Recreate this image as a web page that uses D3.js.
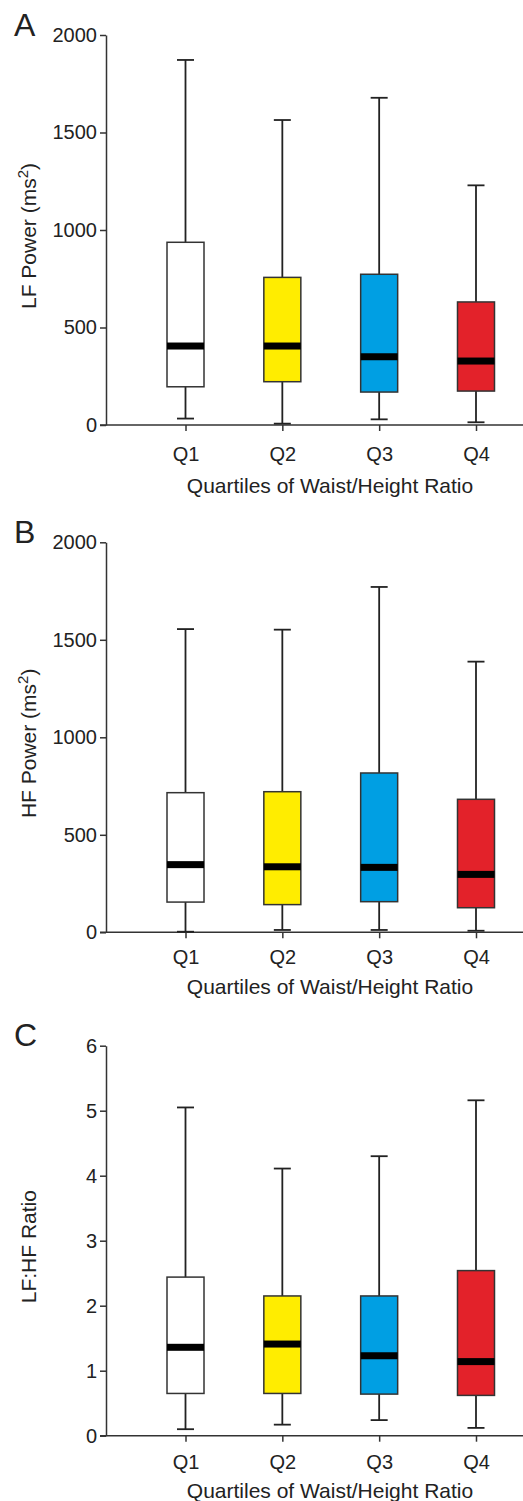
<!DOCTYPE html>
<meta charset="utf-8">
<body style="margin:0;background:#fff">
<div id="chart"></div>
<style>
  text { font-family: "Liberation Sans", Arial, sans-serif; fill: #222; }
  .axis path, .axis line { stroke: #333; stroke-width: 1.5; }
  .axis text { font-size: 20px; fill: #222; }
</style>
<script src="https://d3js.org/d3.v7.min.js"></script>
<script>
  var width = 523;
  var height = 1501;

  var categories = ["Q1", "Q2", "Q3", "Q4"];
  var fills = ["#ffffff", "#ffed00", "#009fe3", "#e3222a"];

  // panel A: LF power
  var lfLow = [33, 7, 29, 14];
  var lfLowerQ = [196, 222, 169, 174];
  var lfMedian = [405, 405, 350, 328];
  var lfUpperQ = [937, 757, 773, 631];
  var lfHigh = [1872, 1564, 1678, 1229];

  // panel B: HF power
  var hfLow = [3, 12, 12, 8];
  var hfLowerQ = [155, 142, 157, 126];
  var hfMedian = [347, 336, 333, 297];
  var hfUpperQ = [716, 721, 817, 682];
  var hfHigh = [1555, 1552, 1771, 1388];

  // panel C: LF:HF ratio
  var ratioLow = [0.10, 0.17, 0.24, 0.12];
  var ratioLowerQ = [0.65, 0.65, 0.64, 0.62];
  var ratioMedian = [1.36, 1.41, 1.23, 1.14];
  var ratioUpperQ = [2.44, 2.15, 2.15, 2.54];
  var ratioHigh = [5.05, 4.11, 4.30, 5.16];

  var powerTicks = [0, 500, 1000, 1500, 2000];
  var ratioTicks = [0, 1, 2, 3, 4, 5, 6];

  var xTitle = "Quartiles of Waist/Height Ratio";

  var panels = [
    {letter: "A", label: "LF Power (ms", sup: "2", ticks: powerTicks, top: 35, bottom: 425,
     low: lfLow, q1: lfLowerQ, med: lfMedian, q3: lfUpperQ, high: lfHigh, tickPad: 16, titleDy: 68},
    {letter: "B", label: "HF Power (ms", sup: "2", ticks: powerTicks, top: 542.3, bottom: 932.3,
     low: hfLow, q1: hfLowerQ, med: hfMedian, q3: hfUpperQ, high: hfHigh, tickPad: 12, titleDy: 62},
    {letter: "C", label: "LF:HF Ratio", sup: null, ticks: ratioTicks, top: 1045.7, bottom: 1435.7,
     low: ratioLow, q1: ratioLowerQ, med: ratioMedian, q3: ratioUpperQ, high: ratioHigh, tickPad: 13, titleDy: 62}
  ];

  var axisX = 106;
  var x = d3.scalePoint().domain(categories).range([185.5, 476]);
  var boxW = 37, capW = 17, medH = 7;

  var svg = d3.select("#chart").append("svg")
      .attr("width", width)
      .attr("height", height);

  panels.forEach(function(p) {
    var y = d3.scaleLinear()
        .domain([d3.min(p.ticks), d3.max(p.ticks)])
        .range([p.bottom, p.top]);

    var g = svg.append("g");

    // x axis line runs past the y axis
    g.append("line")
      .attr("x1", 100).attr("x2", width)
      .attr("y1", y(0)).attr("y2", y(0))
      .attr("stroke", "#333").attr("stroke-width", 1.5);

    var xa = g.append("g").attr("class", "axis")
      .attr("transform", "translate(0," + y(0) + ")")
      .call(d3.axisBottom(x).tickSize(6).tickPadding(p.tickPad));
    xa.select(".domain").remove();

    g.append("g").attr("class", "axis")
      .attr("transform", "translate(" + axisX + ",0)")
      .call(d3.axisLeft(y).tickValues(p.ticks).tickSize(6).tickSizeOuter(0).tickPadding(3)
        .tickFormat(d3.format("d")));

    var rows = categories.map(function(c, i) {
      return {cat: c, fill: fills[i], low: p.low[i], q1: p.q1[i], med: p.med[i], q3: p.q3[i], high: p.high[i]};
    });

    var box = g.selectAll(".box").data(rows).enter().append("g").attr("class", "box");

    box.append("line")
      .attr("x1", function(d) { return x(d.cat); })
      .attr("x2", function(d) { return x(d.cat); })
      .attr("y1", function(d) { return y(d.low); })
      .attr("y2", function(d) { return y(d.high); })
      .attr("stroke", "#222").attr("stroke-width", 1.8);

    box.selectAll(".cap")
      .data(function(d) { return [{cat: d.cat, v: d.low}, {cat: d.cat, v: d.high}]; })
      .enter().append("line")
      .attr("x1", function(d) { return x(d.cat) - capW / 2; })
      .attr("x2", function(d) { return x(d.cat) + capW / 2; })
      .attr("y1", function(d) { return y(d.v); })
      .attr("y2", function(d) { return y(d.v); })
      .attr("stroke", "#222").attr("stroke-width", 1.8);

    box.append("rect")
      .attr("x", function(d) { return x(d.cat) - boxW / 2; })
      .attr("width", boxW)
      .attr("y", function(d) { return y(d.q3); })
      .attr("height", function(d) { return y(d.q1) - y(d.q3); })
      .attr("fill", function(d) { return d.fill; })
      .attr("stroke", "#333").attr("stroke-width", 1.5);

    box.append("rect")
      .attr("x", function(d) { return x(d.cat) - boxW / 2; })
      .attr("width", boxW)
      .attr("y", function(d) { return y(d.med) - medH / 2; })
      .attr("height", medH)
      .attr("fill", "#000");

    // panel letter
    g.append("text")
      .attr("x", 14).attr("y", p.top + 0.7)
      .style("font-size", "32px")
      .text(p.letter);

    // y title
    var yt = g.append("text")
      .attr("transform", "translate(36," + ((p.top + p.bottom) / 2 + 6) + ") rotate(-90)")
      .attr("text-anchor", "middle")
      .style("font-size", "21px")
      .text(p.label);
    if (p.sup) {
      yt.append("tspan").attr("dy", -8).style("font-size", "15px").text(p.sup);
      yt.append("tspan").attr("dy", 8).text(")");
    }

    // x title
    g.append("text")
      .attr("x", 330).attr("y", y(0) + p.titleDy)
      .attr("text-anchor", "middle")
      .style("font-size", "21px")
      .text(xTitle);
  });
</script>
</body>
